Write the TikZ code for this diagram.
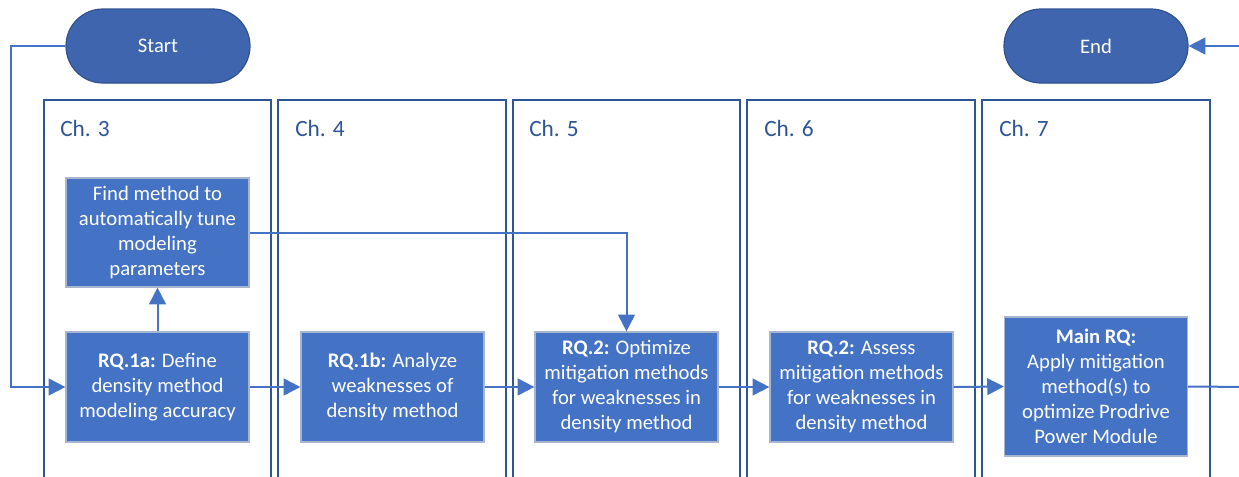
\documentclass[tikz,border=0pt]{standalone}
\usepackage{fontspec}
\setmainfont{Carlito}
\usetikzlibrary{arrows.meta}
\definecolor{boxblue}{HTML}{4472C4}
\definecolor{termblue}{HTML}{3E65AD}
\definecolor{termedge}{HTML}{2F528F}
\definecolor{chedge}{HTML}{2F5597}
\definecolor{boxedge}{HTML}{A7B5CE}
\tikzset{
  rqbox/.style={draw=boxedge, line width=0.9pt, fill=boxblue, text=white, align=center,
    minimum width=137.25pt, minimum height=82.5pt, inner sep=0pt,
    font=\fontsize{15.5}{18.75}\selectfont},
  term/.style={draw=termedge, line width=0.9pt, fill=termblue, text=white,
    minimum width=138pt, minimum height=55.5pt, rounded corners=27.7pt, inner sep=0pt,
    font=\fontsize{15.5}{18.75}\selectfont},
  chframe/.style={draw=chedge, line width=1.5pt},
  chlabel/.style={text=chedge, anchor=base west, inner sep=0pt, font=\fontsize{17.5}{21}\selectfont},
  arr/.style={draw=boxblue, line width=1.5pt, -{Triangle[length=12.5pt,width=12.5pt]}},
  conn/.style={draw=boxblue, line width=1.5pt}
}
\begin{document}
\begin{tikzpicture}[x=0.75pt,y=-0.75pt]
\clip (0,0) rectangle (1239,476);
\fill[white] (0,0) rectangle (1239,476);
% chapter frames
\draw[chframe] (44,100) rectangle (271,500);
\draw[chframe] (278,100) rectangle (506,500);
\draw[chframe] (513,100) rectangle (740,500);
\draw[chframe] (747,100) rectangle (975,500);
\draw[chframe] (982,100) rectangle (1210,500);
\node[chlabel] (ch3) at (60,136) {Ch. 3};
\node[chlabel] (ch4) at (295,136) {Ch. 4};
\node[chlabel] (ch5) at (529,136) {Ch. 5};
\node[chlabel] (ch6) at (764,136) {Ch. 6};
\node[chlabel] (ch7) at (999,136) {Ch. 7};
% terminals
\node[term] (start) at (158,46) {Start};
\node[term] (end) at (1096,46) {End};
% boxes
\node[rqbox, minimum height=81.75pt] (find) at (157.5,232.5) {Find method to\\automatically tune\\modeling\\parameters};
\node[rqbox] (rq1a) at (157.5,387) {\textbf{RQ.1a:} Define\\density method\\modeling accuracy};
\node[rqbox] (rq1b) at (392.5,387) {\textbf{RQ.1b:} Analyze\\weaknesses of\\density method};
\node[rqbox] (rq2o) at (626.5,387) {\textbf{RQ.2:} Optimize\\mitigation methods\\for weaknesses in\\density method};
\node[rqbox] (rq2a) at (861.5,387) {\textbf{RQ.2:} Assess\\mitigation methods\\for weaknesses in\\density method};
\node[rqbox, minimum height=104.25pt] (main) at (1096,386.5) {\textbf{Main RQ:}\\Apply mitigation\\method(s) to\\optimize Prodrive\\Power Module};
% connectors
\coordinate (sl) at (11,46);
\coordinate (mainout) at (1250,387);
\coordinate (endin) at (1250,46);
\draw[arr] (start.west) -- (sl) |- (rq1a.west);
\draw[arr] (rq1a.north) -- (find.south);
\draw[arr] (rq1a.east) -- (rq1b.west);
\draw[arr] (rq1b.east) -- (rq2o.west);
\draw[arr] (find.east) -| (rq2o.north);
\draw[arr] (rq2o.east) -- (rq2a.west);
\draw[arr] (rq2a.east) -- (main.west);
\draw[conn] (main.east) -- (mainout);
\draw[arr] (endin) -- (end.east);
\end{tikzpicture}
\end{document}
